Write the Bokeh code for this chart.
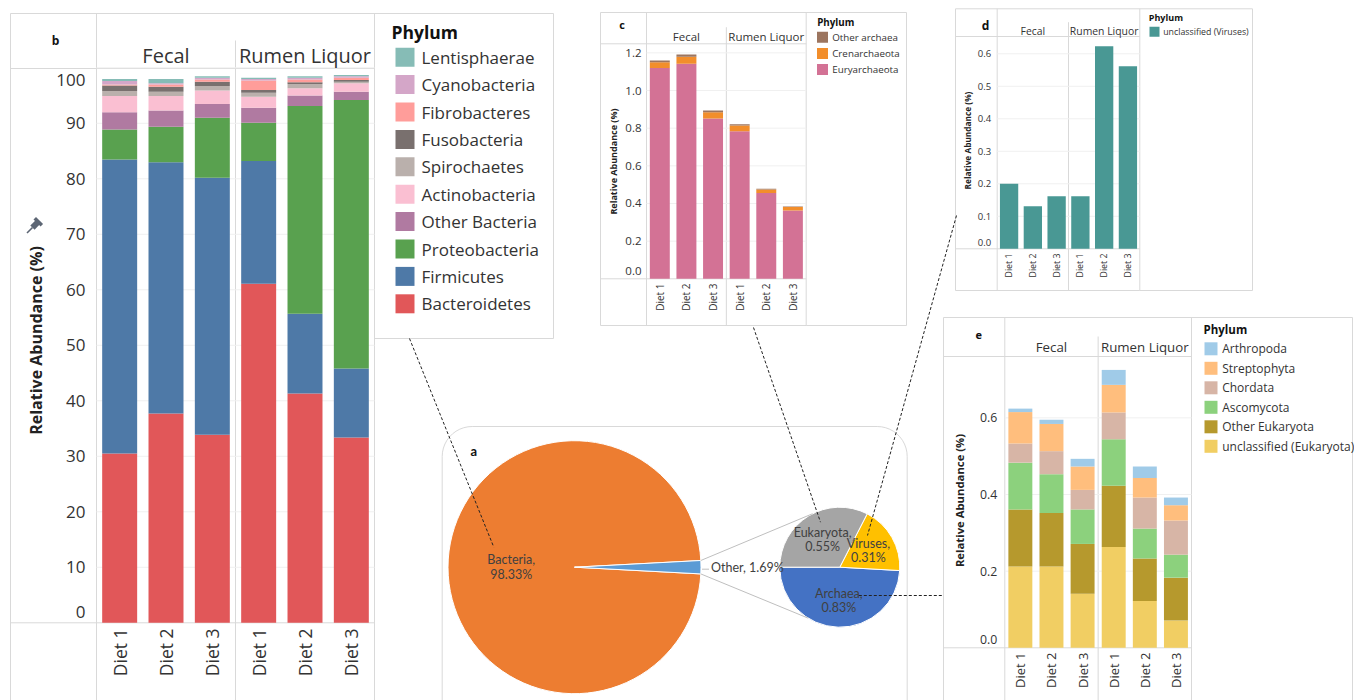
import numpy as np
from math import pi
from bokeh.plotting import figure
from bokeh.models import Range1d, ColumnDataSource
from bokeh.core.properties import value
from bokeh.embed import file_html
from bokeh.resources import INLINE

# ------------------------------------------------------------------ data
sites = ["Fecal", "Rumen Liquor"]
diets = ["Diet 1", "Diet 2", "Diet 3"]
# every series below: Fecal Diet1..3, Rumen Liquor Diet1..3

# (b) Bacteria - relative abundance (%)
bacteroidetes  = [30.5, 37.7, 33.9, 61.1, 41.3, 33.4]
firmicutes     = [53.0, 45.3, 46.3, 22.1, 14.4, 12.4]
proteobacteria = [5.4, 6.4, 10.8, 6.9, 37.4, 48.4]
other_bacteria = [3.1, 2.9, 2.5, 2.7, 1.9, 1.5]
actinobacteria = [2.9, 2.6, 2.4, 2.0, 1.3, 1.5]
spirochaetes   = [0.9, 0.8, 0.8, 0.7, 0.8, 0.3]
fusobacteria   = [1.0, 0.9, 0.8, 0.5, 0.3, 0.3]
fibrobacteres  = [0.2, 0.4, 0.4, 1.7, 0.5, 0.4]
cyanobacteria  = [0.6, 0.2, 0.3, 0.3, 0.3, 0.3]
lentisphaerae  = [0.4, 0.8, 0.3, 0.2, 0.3, 0.2]
bact_names = ["Bacteroidetes", "Firmicutes", "Proteobacteria", "Other Bacteria", "Actinobacteria",
              "Spirochaetes", "Fusobacteria", "Fibrobacteres", "Cyanobacteria", "Lentisphaerae"]
bact_colors = ["#e15759", "#4e79a7", "#59a14f", "#b07aa1", "#fabfd2",
               "#bab0ac", "#79706e", "#ff9d9a", "#d4a6c8", "#86bcb6"]
b_ticks = [0, 10, 20, 30, 40, 50, 60, 70, 80, 90, 100]
b_tick_labels = ["0", "10", "20", "30", "40", "50", "60", "70", "80", "90", "100"]

# (c) Archaea
euryarchaeota = [1.120, 1.142, 0.851, 0.784, 0.455, 0.363]
crenarchaeota = [0.030, 0.037, 0.034, 0.030, 0.019, 0.018]
other_archaea = [0.009, 0.012, 0.009, 0.007, 0.004, 0.003]
arch_names = ["Euryarchaeota", "Crenarchaeota", "Other archaea"]
arch_colors = ["#d37295", "#f28e2b", "#9c755f"]
c_ticks = [0.0, 0.2, 0.4, 0.6, 0.8, 1.0, 1.2]
c_tick_labels = ["0.0", "0.2", "0.4", "0.6", "0.8", "1.0", "1.2"]

# (d) Viruses
unclassified_viruses = [0.200, 0.131, 0.162, 0.162, 0.623, 0.562]
vir_names = ["unclassified (Viruses)"]
vir_colors = ["#499894"]
d_ticks = [0.0, 0.1, 0.2, 0.3, 0.4, 0.5, 0.6]
d_tick_labels = ["0.0", "0.1", "0.2", "0.3", "0.4", "0.5", "0.6"]

# (e) Eukaryota
unclassified_euk = [0.212, 0.212, 0.141, 0.263, 0.122, 0.071]
other_eukaryota  = [0.149, 0.140, 0.130, 0.160, 0.111, 0.112]
ascomycota       = [0.122, 0.101, 0.090, 0.121, 0.078, 0.060]
chordata         = [0.050, 0.060, 0.051, 0.070, 0.081, 0.089]
streptophyta     = [0.082, 0.071, 0.061, 0.072, 0.051, 0.040]
arthropoda       = [0.009, 0.011, 0.020, 0.039, 0.030, 0.020]
euk_names = ["unclassified (Eukaryota)", "Other Eukaryota", "Ascomycota", "Chordata",
             "Streptophyta", "Arthropoda"]
euk_colors = ["#f1ce63", "#b6992d", "#8cd17d", "#d7b5a6", "#ffbe7d", "#a0cbe8"]
e_ticks = [0.0, 0.2, 0.4, 0.6]
e_tick_labels = ["0.0", "0.2", "0.4", "0.6"]

# (a) domains (%)
domains = ["Bacteria", "Other"]
domain_pct = [98.33, 1.69]
domain_colors = ["#ed7d31", "#5b9bd5"]
other_names = ["Archaea", "Viruses", "Eukaryota"]
other_pct = [0.83, 0.31, 0.55]
other_colors = ["#4472c4", "#ffc000", "#a5a5a5"]

ytitle = "Relative Abundance (%)"

# ------------------------------------------------------------------ canvas
W, H = 1354, 700
X0, Y0 = 0, 0          # all layout numbers below are picture pixels
FONT = "Open Sans"
LINE = "#d9d9d9"
GRID = "#f0f0f0"
TXT = "#333333"

p = figure(width=W, height=H, x_range=Range1d(X0, X0 + W), y_range=Range1d(-(Y0 + H), -Y0),
           output_backend="svg", toolbar_location=None, min_border=0,
           x_axis_location=None, y_axis_location=None, outline_line_color=None)
for gr in p.grid:
    gr.visible = False
p.background_fill_color = "white"
p.border_fill_color = "white"


def put_text(xs, ys, texts, size, color=TXT, align="center", baseline="middle", angle=0.0,
             bold=False, font=FONT, xr="default", yr="default"):
    src = ColumnDataSource(dict(x=list(xs), y=list(ys), t=list(texts)))
    p.text(x="x", y="y", text="t", source=src, text_font=value(font), text_font_size=value(size),
           text_color=color, text_align=align, text_baseline=baseline, angle=angle,
           text_font_style="bold" if bold else "normal", x_range_name=xr, y_range_name=yr)


def segs(lines, color=LINE, width=1, dash="solid"):
    p.segment(x0=[l[0] for l in lines], y0=[-l[1] for l in lines],
              x1=[l[2] for l in lines], y1=[-l[3] for l in lines],
              line_color=color, line_width=width, line_dash=dash)


def facet_panel(key, g, layers, names, colors, ticks, tick_labels):
    k, base = g["ppu"], g["base"]
    w = (g["right"] - g["axis"]) / 6.0
    xr, yr = key + "_x", key + "_y"
    p.extra_x_ranges[xr] = Range1d((X0 - g["axis"]) / w, (X0 + W - g["axis"]) / w)
    p.extra_y_ranges[yr] = Range1d((base - (Y0 + H)) / k, (base - Y0) / k)
    L, T, R, B = g["box"]
    div = (g["axis"] + g["right"]) / 2.0
    segs([(L, T, R, T), (L, T, L, B), (R, T, R, g["leg_b"]), (g["right"], g["leg_b"], R, g["leg_b"]),
          (L, B, g["right"], B), (g["axis"], T, g["axis"], B), (g["right"], T, g["right"], B),
          (div, g["div_top"], div, B), (L, g["head"], g["right"], g["head"]),
          (L, base, g["right"], base)])
    # gridlines
    gt = [t for t in ticks if t > 0]
    p.segment(x0=[0] * len(gt), x1=[6] * len(gt), y0=gt, y1=gt, line_color=GRID, line_width=1,
              x_range_name=xr, y_range_name=yr)
    # stacked bars
    xc = np.arange(6) + 0.5
    bottom = np.zeros(6)
    for vals, col in zip(layers, colors):
        top = bottom + np.array(vals, dtype=float)
        p.vbar(x=xc, bottom=bottom, top=top, width=g["bar_w"], fill_color=col, line_color=None,
               x_range_name=xr, y_range_name=yr)
        bottom = top
    # tick labels (extreme labels are kept inside the pane, as Tableau does)
    fs = float(g["tick_fs"].replace("px", ""))
    for t, lab in zip(ticks, tick_labels):
        ypx = base - k * t
        if t == ticks[0]:
            bl, ty = "bottom", t + 0.3 * fs / k
        elif ypx - g["head"] < 8:
            bl, ty = "top", t - 0.35 * fs / k
        else:
            bl, ty = "middle", t
        put_text([g["tick_x"]], [ty], [lab], g["tick_fs"], color="#333333", align="right",
                 baseline=bl, yr=yr)
    # diet labels (rotated)
    put_text(list(xc), [-g["diet_top"]] * 6, diets * 2, g["diet_fs"], align="right",
             baseline="middle", angle=pi / 2, xr=xr)
    # facet headers
    put_text([1.5, 4.5], [-g["head_y"]] * 2, sites, g["head_fs"], xr=xr)
    # panel letter
    put_text([g["letter"][1]], [-g["letter"][2]], [g["letter"][0]], g["letter_fs"], color="#111111",
             bold=True)
    # y title
    put_text([g["title_x"]], [-g["title_y"]], [ytitle], g["title_fs"], color="#222222", bold=True,
             angle=pi / 2)
    # legend (top item = last stacked layer)
    put_text([g["leg_title"][0]], [-g["leg_title"][1]], ["Phylum"], g["leg_title_fs"],
             color="#111111", align="left", bold=True)
    n = len(names)
    ys = [g["item_y0"] + i * g["item_dy"] for i in range(n)]
    order = list(range(n))[::-1]
    p.rect(x=[g["sw_x"] + g["sw"] / 2.0] * n, y=[-v for v in ys], width=g["sw"], height=g["sw"],
           fill_color=[colors[i] for i in order], line_color=None)
    put_text([g["lab_x"]] * n, [-v for v in ys], [names[i] for i in order], g["lab_fs"],
             align="left")


# ------------------------------------------------------------------ panels
GB = dict(box=(10, 13, 553, 700), leg_b=338, axis=96, right=374, div_top=40, head=68, base=622.3,
          ppu=5.55, bar_w=0.755, tick_x=85, tick_fs="17px", diet_top=628, diet_fs="17.5px",
          head_y=55, head_fs="20px", letter=("b", 55, 40), letter_fs="12px", title_x=35, title_y=340,
          title_fs="16px", leg_title=(391, 31), leg_title_fs="17.5px", sw_x=395, sw=19, item_y0=56.7,
          item_dy=27.4, lab_x=421, lab_fs="17px")
GC = dict(box=(600, 12, 906, 325), leg_b=325, axis=646, right=805.7, div_top=26.7, head=43.3, base=278.3,
          ppu=188.3, bar_w=0.75, tick_x=641, tick_fs="11.5px", diet_top=283, diet_fs="10px",
          head_y=36, head_fs="11.5px", letter=("c", 621.7, 24), letter_fs="11px", title_x=613,
          title_y=161, title_fs="9px", leg_title=(816.7, 21.7), leg_title_fs="9.8px", sw_x=816.5, sw=11,
          item_y0=36.7, item_dy=16.2, lab_x=831.7, lab_fs="9.8px")
GD = dict(box=(955, 8.3, 1252, 290), leg_b=290, axis=996.7, right=1139.3, div_top=21.7, head=36,
          base=248.3, ppu=325.0, bar_w=0.77, tick_x=990.7, tick_fs="9.5px", diet_top=253,
          diet_fs="8.8px", head_y=30, head_fs="10.4px", letter=("d", 985, 25), letter_fs="12px",
          title_x=966.7, title_y=140, title_fs="8.3px", leg_title=(1148.3, 16.7), leg_title_fs="9px",
          sw_x=1149, sw=10, item_y0=31.3, item_dy=16, lab_x=1162.7, lab_fs="8.8px")
GE = dict(box=(943, 317, 1352, 700), leg_b=700, axis=1004.3, right=1191, div_top=336, head=356,
          base=647.3, ppu=383.3, bar_w=0.77, tick_x=996.7, tick_fs="12.3px", diet_top=652,
          diet_fs="13px", head_y=346, head_fs="13.3px", letter=("e", 978.3, 334), letter_fs="11px",
          title_x=959.3, title_y=500, title_fs="11.3px", leg_title=(1203, 329.3), leg_title_fs="11.5px",
          sw_x=1204, sw=13, item_y0=348.3, item_dy=19.5, lab_x=1221.7, lab_fs="12px")

facet_panel("b", GB, [bacteroidetes, firmicutes, proteobacteria, other_bacteria, actinobacteria,
                      spirochaetes, fusobacteria, fibrobacteres, cyanobacteria, lentisphaerae],
            bact_names, bact_colors, b_ticks, b_tick_labels)
facet_panel("c", GC, [euryarchaeota, crenarchaeota, other_archaea], arch_names, arch_colors,
            c_ticks, c_tick_labels)
facet_panel("d", GD, [unclassified_viruses], vir_names, vir_colors, d_ticks, d_tick_labels)
facet_panel("e", GE, [unclassified_euk, other_eukaryota, ascomycota, chordata, streptophyta, arthropoda],
            euk_names, euk_colors, e_ticks, e_tick_labels)

# pin icon next to the y title of panel b
PIN = "#5d6674"
p.rect(x=[37.8, 34.6], y=[-221.2, -224.4], width=[10, 6], height=[3.5, 7.5], angle=-pi / 4,
       fill_color=PIN, line_color=None)
segs([(32.0, 227.0, 26.5, 232.5)], color=PIN, width=1.6)

# ------------------------------------------------------------------ (a) pie of pie
BOX_L, BOX_T, BOX_R, BOX_B, BOX_RAD = 441.7, 426, 906.7, 720, 30
arc1 = np.linspace(pi, pi / 2, 12)
arc2 = np.linspace(pi / 2, 0, 12)
bx = np.concatenate([[BOX_L], BOX_L + BOX_RAD + BOX_RAD * np.cos(arc1),
                     BOX_R - BOX_RAD + BOX_RAD * np.cos(arc2), [BOX_R]])
by = np.concatenate([[BOX_B], BOX_T + BOX_RAD - BOX_RAD * np.sin(arc1),
                     BOX_T + BOX_RAD - BOX_RAD * np.sin(arc2), [BOX_B]])
p.line(x=bx, y=-by, line_color=LINE, line_width=1)
put_text([473.3], [-450.7], ["a"], "13px", color="#111111", bold=True, font="Lato")

PX, PY, PR = 574.0, 566.7, 126.5
SX, SY, SR = 839.3, 566.7, 60.0
tot = sum(domain_pct)
oa = 2 * pi * domain_pct[1] / tot
p.wedge(x=[PX, PX], y=[-PY, -PY], radius=PR, radius_units="screen",
        start_angle=[oa / 2, -oa / 2], end_angle=[2 * pi - oa / 2, oa / 2],
        fill_color=domain_colors, line_color="white", line_width=1)

fr = 2 * pi * np.array(other_pct) / sum(other_pct)
s_start = pi + np.concatenate([[0.0], np.cumsum(fr)[:-1]])
s_end = pi + np.cumsum(fr)
p.wedge(x=[SX] * 3, y=[-SY] * 3, radius=SR, radius_units="screen", start_angle=list(s_start),
        end_angle=list(s_end), fill_color=other_colors, line_color="white", line_width=1)

# connectors between the two pies
a_up, a_dn = 117 * pi / 180, 238 * pi / 180
segs([(PX + PR * np.cos(oa / 2), PY - PR * np.sin(oa / 2), SX + SR * np.cos(a_up), SY - SR * np.sin(a_up)),
      (PX + PR * np.cos(oa / 2), PY + PR * np.sin(oa / 2), SX + SR * np.cos(a_dn), SY - SR * np.sin(a_dn))],
     color="#bfbfbf")

PIE_FONT = "Lato"
PIE_FS = "12.5px"
PIE_TXT = "#404040"
# big pie label
put_text([PX - 0.5 * PR] * 2, [-(PY - 7.3), -(PY + 7.3)],
         [domains[0] + ",", "%.2f%%" % domain_pct[0]], PIE_FS, color=PIE_TXT, font=PIE_FONT)
put_text([PX + PR + 10], [-PY], ["%s, %.2f%%" % (domains[1], domain_pct[1])], PIE_FS,
         color=PIE_TXT, align="left", font=PIE_FONT)
segs([(PX + PR + 1, PY + 2, PX + PR + 8, PY + 2)], color="#bfbfbf")
mid = (s_start + s_end) / 2
for nm, pc, m in zip(other_names, other_pct, mid):
    cx = SX + 0.55 * SR * np.cos(m)
    cy = SY - 0.55 * SR * np.sin(m)
    put_text([cx, cx], [-(cy - 7), -(cy + 7)], [nm + ",", "%.2f%%" % pc], PIE_FS, color=PIE_TXT,
             font=PIE_FONT)

# dashed call-out lines (drawn last, on top)
segs([(409, 338, 493.3, 546.7), (753, 327, 820, 521.7), (956, 215, 867, 535), (858.3, 595, 943, 595)],
     color="#222222", width=1, dash="3 2")

open("out.html", "w").write(file_html(p, INLINE))
